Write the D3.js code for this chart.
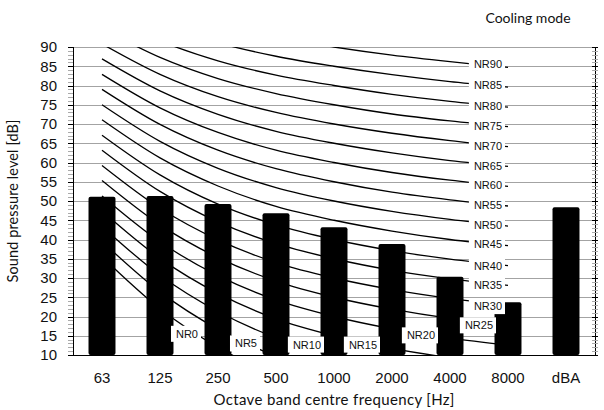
<!DOCTYPE html>
<html>
<head>
<meta charset="utf-8">
<script src="https://cdn.jsdelivr.net/npm/d3@7"></script>
<style>
  html, body { margin: 0; padding: 0; background: #fff; }
  svg { display: block; }
</style>
</head>
<body>
<svg id="chart" width="604" height="410"></svg>
<script>
// ---------------- data ----------------
const categories = ["63", "125", "250", "500", "1000", "2000", "4000", "8000", "dBA"];
const levels = [51.1, 51.3, 49.2, 46.8, 43.2, 38.8, 30.3, 23.7, 48.4];
const yTicks = [10, 15, 20, 25, 30, 35, 40, 45, 50, 55, 60, 65, 70, 75, 80, 85, 90];
const bandFreqs = ["63", "125", "250", "500", "1000", "2000", "4000", "8000"];

const nr0  = [35.5, 22.0, 12.0, 4.8, 0.0, -3.5, -6.1, -8.0];
const nr5  = [39.5, 26.4, 16.7, 9.7, 5.0, 1.6, -1.0, -2.9];
const nr10 = [43.4, 30.7, 21.3, 14.5, 10.0, 6.7, 4.2, 2.3];
const nr15 = [47.4, 35.1, 26.0, 19.4, 15.0, 11.7, 9.3, 7.5];
const nr20 = [51.3, 39.4, 30.6, 24.3, 20.0, 16.8, 14.4, 12.6];
const nr25 = [55.3, 43.8, 35.3, 29.2, 25.0, 21.9, 19.5, 17.8];
const nr30 = [59.2, 48.1, 39.9, 34.0, 30.0, 27.0, 24.7, 22.9];
const nr35 = [63.2, 52.5, 44.6, 38.9, 35.0, 32.0, 29.8, 28.1];
const nr40 = [67.1, 56.8, 49.2, 43.8, 40.0, 37.1, 34.9, 33.2];
const nr45 = [71.1, 61.2, 53.9, 48.6, 45.0, 42.2, 40.0, 38.4];
const nr50 = [75.0, 65.5, 58.5, 53.5, 50.0, 47.3, 45.2, 43.5];
const nr55 = [79.0, 69.9, 63.2, 58.4, 55.0, 52.3, 50.3, 48.7];
const nr60 = [82.9, 74.2, 67.8, 63.2, 60.0, 57.4, 55.4, 53.8];
const nr65 = [86.9, 78.6, 72.5, 68.1, 65.0, 62.5, 60.5, 59.0];
const nr70 = [90.8, 82.9, 77.1, 73.0, 70.0, 67.6, 65.7, 64.1];
const nr75 = [94.8, 87.3, 81.8, 77.9, 75.0, 72.6, 70.8, 69.3];
const nr80 = [98.7, 91.6, 86.4, 82.7, 80.0, 77.7, 75.9, 74.4];
const nr85 = [102.7, 96.0, 91.1, 87.6, 85.0, 82.8, 81.0, 79.6];
const nr90 = [106.6, 100.3, 95.7, 92.5, 90.0, 87.9, 86.2, 84.7];

const nrNames = ["NR0", "NR5", "NR10", "NR15", "NR20", "NR25", "NR30", "NR35", "NR40", "NR45",
                 "NR50", "NR55", "NR60", "NR65", "NR70", "NR75", "NR80", "NR85", "NR90"];
const nrLabelFreq = ["250", "500", "1000", "2000", "4000", "8000", "8000", "8000", "8000", "8000",
                     "8000", "8000", "8000", "8000", "8000", "8000", "8000", "8000", "8000"];
const nrLabelLevel = [15.5, 13.0, 12.7, 12.7, 15.1, 17.7, 22.7, 28.3, 33.1, 38.7,
                      43.7, 48.9, 54.2, 59.2, 64.4, 69.6, 74.7, 80.1, 85.5];

const nrCurves = [nr0, nr5, nr10, nr15, nr20, nr25, nr30, nr35, nr40, nr45,
                  nr50, nr55, nr60, nr65, nr70, nr75, nr80, nr85, nr90];

// ---------------- layout ----------------
const plot = { left: 73, right: 595, top: 47, bottom: 355 };
// horizontal shift of each NR label's right edge from its anchor point (px)
const labelShift = [-20, -19, -13, -15, -15, -15, -6, -6, -6, -6, -6, -6, -6, -6, -6, -6, -6, -6, -6];

const svg = d3.select("#chart");

const x = d3.scaleBand().domain(categories).range([plot.left, plot.right])
  .paddingInner(0.535).paddingOuter(0.2675);
const y = d3.scaleLinear().domain([10, 90]).range([plot.bottom, plot.top]);
const cx = c => x(c) + x.bandwidth() / 2;

const sansA = "'Liberation Sans', Arial, sans-serif";
const sansC = "Lato, 'Open Sans', sans-serif";

// clip
svg.append("defs").append("clipPath").attr("id", "plotClip")
  .append("rect").attr("x", plot.left).attr("y", plot.top)
  .attr("width", plot.right - plot.left).attr("height", plot.bottom - plot.top);

// gridlines
svg.append("g").selectAll("line").data(yTicks.filter(d => d > 10)).join("line")
  .attr("x1", plot.left).attr("x2", plot.right)
  .attr("y1", d => Math.round(y(d)) + 0.5).attr("y2", d => Math.round(y(d)) + 0.5)
  .attr("stroke", "#a3a3a3").attr("stroke-width", 1);

// NR curves
const line = d3.line()
  .x((d, i) => cx(bandFreqs[i]))
  .y(d => y(d))
  .curve(d3.curveCardinal.tension(0));

svg.append("g").attr("clip-path", "url(#plotClip)")
  .selectAll("path").data(nrCurves).join("path")
  .attr("d", line)
  .attr("fill", "none").attr("stroke", "#000").attr("stroke-width", 1.3);

// bars
svg.append("g").selectAll("rect").data(levels).join("rect")
  .attr("x", (d, i) => x(categories[i]))
  .attr("y", d => y(d))
  .attr("width", x.bandwidth())
  .attr("height", d => y(10) - y(d))
  .attr("rx", 2).attr("ry", 2)
  .attr("fill", "#000");

// left axis
const minor = d3.range(10, 91, 1);
const gl = svg.append("g");
gl.append("line").attr("x1", plot.left + 0.5).attr("x2", plot.left + 0.5)
  .attr("y1", plot.top).attr("y2", plot.bottom).attr("stroke", "#000");
gl.selectAll("line.m").data(minor).join("line").attr("class", "m")
  .attr("x1", plot.left - 5).attr("x2", plot.left)
  .attr("y1", d => Math.round(y(d)) + 0.5).attr("y2", d => Math.round(y(d)) + 0.5)
  .attr("stroke", d => d % 5 === 0 ? "#000" : "#aaa");
gl.selectAll("text").data(yTicks).join("text")
  .attr("x", plot.left - 16).attr("y", d => y(d)).attr("dy", "0.36em")
  .attr("text-anchor", "end").attr("font-family", sansA).attr("font-size", 15)
  .attr("fill", "#111").text(d => d);

// right axis
const gr = svg.append("g");
gr.append("line").attr("x1", plot.right + 0.5).attr("x2", plot.right + 0.5)
  .attr("y1", plot.top).attr("y2", plot.bottom).attr("stroke", "#000");
gr.selectAll("line.m").data(minor).join("line").attr("class", "m")
  .attr("x1", plot.right - 3).attr("x2", plot.right + 3)
  .attr("y1", d => Math.round(y(d)) + 0.5).attr("y2", d => Math.round(y(d)) + 0.5)
  .attr("stroke", d => d % 5 === 0 ? "#000" : "#aaa");

// bottom axis
svg.append("line").attr("x1", plot.left).attr("x2", plot.right + 1)
  .attr("y1", plot.bottom + 0.5).attr("y2", plot.bottom + 0.5).attr("stroke", "#000");
svg.append("g").selectAll("text").data(categories).join("text")
  .attr("x", d => cx(d)).attr("y", 383)
  .attr("text-anchor", "middle").attr("font-family", sansA).attr("font-size", 15)
  .attr("fill", "#111").text(d => d);

// NR labels
const lg = svg.append("g");
nrNames.forEach((name, i) => {
  const ax = cx(nrLabelFreq[i]) + labelShift[i];
  const ay = y(nrLabelLevel[i]);
  const g = lg.append("g");
  const t = g.append("text").attr("x", ax).attr("y", ay).attr("dy", "0.36em")
    .attr("text-anchor", "end").attr("font-family", sansA).attr("font-size", 11)
    .attr("fill", "#111").text(name);
  const w = t.node().getComputedTextLength();
  g.insert("rect", "text").attr("x", ax - w - 5).attr("y", ay - 8)
    .attr("width", w + 8).attr("height", 16).attr("fill", "#fff");
});

// titles
svg.append("text").attr("transform", `translate(18,${(plot.top + plot.bottom) / 2}) rotate(-90)`)
  .attr("text-anchor", "middle").attr("font-family", sansC).attr("font-size", 14.5)
  .attr("letter-spacing", 0.1)
  .attr("fill", "#111").text("Sound pressure level [dB]");
svg.append("text").attr("x", (plot.left + plot.right) / 2).attr("y", 405)
  .attr("text-anchor", "middle").attr("font-family", sansC).attr("font-size", 15)
  .attr("letter-spacing", 0.35)
  .attr("fill", "#111").text("Octave band centre frequency [Hz]");
svg.append("text").attr("x", 528).attr("y", 23)
  .attr("text-anchor", "middle").attr("font-family", sansC).attr("font-size", 14)
  .attr("fill", "#111").text("Cooling mode");
</script>
</body>
</html>
